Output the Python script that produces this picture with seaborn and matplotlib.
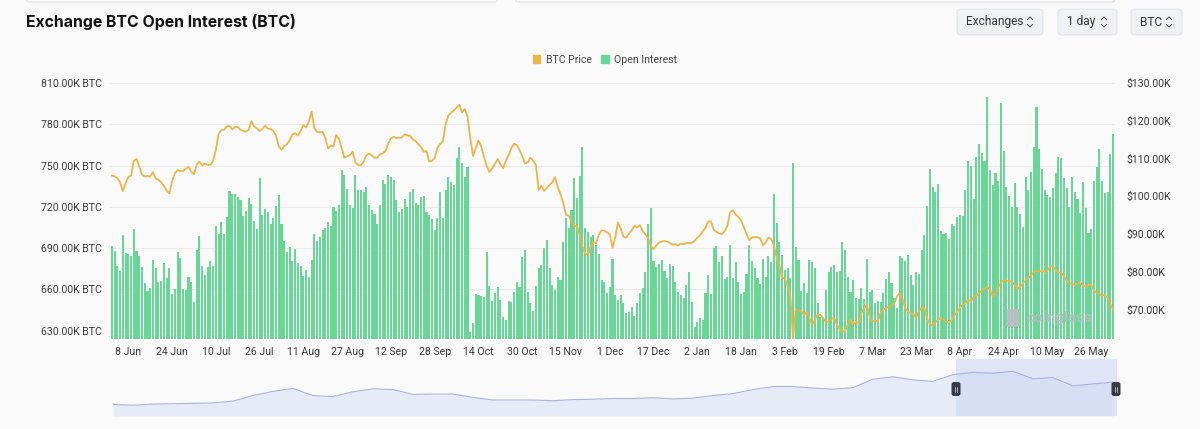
import numpy as np
import pandas as pd
import matplotlib
matplotlib.use("Agg")
import matplotlib.pyplot as plt
from matplotlib.patches import Patch, FancyBboxPatch
import seaborn as sns

# ---------------- data ----------------
start_date = "2025-06-02"

open_interest_k = [
    691.6, 688.2, 677.1, 673.7, 699.6, 686.8, 685.6, 684.6, 704.0, 688.0,
    684.1, 676.1, 665.0, 658.7, 661.4, 681.4, 675.9, 665.7, 666.2, 679.5,
    668.6, 675.4, 656.5, 660.1, 687.0, 682.7, 660.1, 659.4, 669.3, 665.7,
    650.7, 688.7, 698.9, 677.1, 670.5, 676.6, 680.7, 677.3, 706.4, 700.3,
    708.8, 700.3, 712.4, 731.6, 729.6, 729.2, 727.2, 725.0, 713.6, 716.8,
    726.2, 722.1, 709.8, 704.0, 741.2, 714.1, 718.5, 716.5, 707.4, 712.2,
    720.9, 728.7, 707.6, 695.5, 687.5, 691.1, 680.9, 689.4, 679.0, 677.3,
    669.8, 674.2, 669.3, 681.4, 700.1, 695.5, 697.9, 703.2, 704.9, 709.3,
    706.1, 719.7, 717.0, 721.4, 746.8, 743.2, 732.8, 721.4, 719.0, 743.2,
    732.3,
    732.3, 731.1, 734.7, 721.4, 717.7, 714.6, 707.4, 721.4, 739.5,
    736.4, 743.2, 742.0, 739.5, 725.0, 716.5, 718.5, 725.7, 720.2, 731.1,
    733.0, 722.6, 721.4, 727.4, 727.9, 716.5, 714.1, 711.2, 703.2, 711.7,
    731.1, 711.7, 732.3, 742.0, 737.9, 735.9, 755.3, 763.3, 751.6, 742.0,
    749.2, 629.4, 635.4, 656.5, 656.0, 655.5, 654.3, 687.5, 662.8, 651.7,
    657.7, 661.6, 652.4, 640.3, 637.9, 651.7, 650.7, 658.4, 665.2, 662.1,
    683.4, 688.7, 658.4, 650.0, 644.4, 662.8, 675.4, 677.8, 690.4, 695.7,
    675.4, 663.3, 659.6, 669.3, 666.9, 694.3, 711.7, 704.4, 717.7, 741.2,
    726.2, 742.7, 763.3, 704.4, 701.5, 698.4, 699.6, 692.3, 685.6, 666.9,
    665.7, 657.5, 662.0,
    681.9, 656.0, 652.4, 656.0, 650.0, 642.7, 643.4,
    647.1, 641.0, 650.0, 657.2, 660.9, 672.5, 707.4, 719.0, 681.0, 676.6,
    678.3, 681.4, 673.5, 668.1, 678.3, 677.3, 665.7, 658.4, 656.0, 653.6,
    663.3, 673.0, 651.2, 633.0, 636.6, 639.5, 637.9, 657.2, 670.6, 656.5,
    689.9, 691.9, 680.2, 684.6, 667.6, 669.3, 692.3, 668.6, 680.2, 665.7,
    656.5, 658.4, 671.0, 692.3, 681.0, 675.4, 668.6, 663.8, 682.2, 669.3,
    684.1, 680.2, 729.1, 708.6, 694.8, 685.1, 674.2, 675.9, 668.1, 752.1,
    691.1, 681.4, 658.9, 664.5, 657.2, 681.4, 680.2, 675.9, 650.0, 640.3,
    639.1, 659.6, 673.0, 676.6, 677.8, 673.0, 673.5, 694.8, 688.7, 669.3,
    658.4, 666.9, 653.6, 653.1,
    660.9, 652.9, 681.9, 658.4, 659.6, 650.5,
    651.9, 651.0, 657.2, 667.4, 673.0, 665.0, 653.6, 646.3, 684.4, 682.7,
    681.0, 685.1, 670.5, 663.3, 672.7, 671.3, 688.7, 699.6, 720.7, 747.8,
    734.7, 730.6, 736.4, 702.8, 700.1, 701.3, 696.5, 707.3, 706.1, 712.4,
    714.1, 713.6, 732.3, 753.6, 749.7, 725.5, 756.5, 765.5, 758.9, 753.3,
    799.6, 746.8, 735.9, 744.4, 739.1, 795.7, 760.6, 734.7, 727.9, 720.2,
    737.6, 719.7, 714.9, 705.7, 742.0, 732.3, 745.6, 763.3, 792.3, 761.8,
    747.3, 732.3, 728.7, 727.5, 733.5, 744.4, 756.0, 755.3, 740.8, 733.5,
    720.2, 741.5, 731.1, 725.5, 715.3, 738.3, 719.0, 700.8, 703.7, 738.6,
    749.2, 761.8, 739.1, 730.3, 731.1, 758.2, 772.7,
]

btc_price_k = [
    105.5, 105.3, 104.8, 103.7, 101.4, 103.4, 105.1, 105.5, 109.4, 109.9,
    107.9, 105.7, 105.3, 105.4, 105.2, 106.4, 104.7, 104.4, 103.7, 102.8,
    101.5, 100.8, 103.9, 106.1, 106.9, 106.7, 106.7, 107.3, 107.8, 106.5,
    105.8, 108.5, 109.2, 108.2, 108.7, 108.3, 108.3, 109.4, 112.3, 116.5,
    117.6, 117.6, 118.5, 118.6, 117.7, 118.4, 118.3, 117.6, 117.3, 117.1,
    117.6, 119.8, 118.5, 118.0, 117.3, 117.8, 118.7, 117.9, 117.9, 117.3,
    116.1, 113.2, 112.3, 113.3, 113.8, 114.9, 116.4, 116.7, 116.1, 117.3,
    118.9, 118.2, 119.8, 122.4, 118.0, 117.1, 116.9, 117.1, 115.4, 112.7,
    113.4, 113.2, 116.2, 115.2, 112.7, 110.2, 110.6, 110.9, 111.8, 109.0,
    108.3,
    108.2, 109.1, 110.9, 111.3, 110.8, 110.2, 110.2, 111.1, 111.4,
    112.0, 114.0, 115.4, 115.7, 115.4, 115.5, 115.6, 116.4, 116.1, 116.0,
    115.1, 114.6, 113.8, 113.0, 111.8, 112.0, 109.2, 109.4, 110.1, 112.9,
    113.9, 114.5, 119.1, 121.4, 122.1, 122.7, 123.5, 124.2, 122.2, 123.1,
    121.1, 115.4, 110.7, 112.7, 114.8, 113.2, 110.5, 108.1, 106.4, 107.4,
    108.5, 109.9, 108.5, 107.4, 109.4, 110.9, 112.7, 113.9, 113.6, 112.3,
    110.7, 108.7, 109.0, 110.2, 109.5, 108.3, 101.7, 102.8, 101.4, 102.3,
    103.0, 103.7, 105.1, 102.4, 100.6, 98.2, 95.1, 94.9, 93.3, 92.2,
    92.2, 89.8, 86.7, 84.8, 84.5, 86.7, 88.0, 87.6, 89.8, 91.0,
    90.9, 90.5, 89.9,
    86.4, 89.1, 93.1, 91.5, 89.3, 89.1, 90.1,
    91.0, 92.2, 91.8, 92.4, 90.8, 90.0, 88.9, 87.0, 86.0, 87.0,
    87.8, 88.0, 88.2, 88.0, 87.7, 87.2, 87.3, 87.0, 87.5, 87.3,
    87.7, 87.6, 87.7, 88.2, 89.0, 89.7, 90.7, 91.7, 93.4, 93.3,
    91.2, 90.6, 90.2, 90.0, 90.8, 92.2, 95.8, 96.3, 95.2, 94.6,
    93.6, 91.9, 90.0, 88.4, 89.1, 89.2, 89.2, 88.9, 87.0, 87.8,
    89.1, 88.7, 87.1, 83.8, 81.8, 78.3, 78.3, 76.2, 73.9, 62.4,
    70.2, 69.7, 69.7, 68.6, 69.4, 67.7, 66.0, 67.4, 68.8, 68.6,
    67.8, 66.8, 66.9, 67.6, 67.8, 66.1, 64.9, 64.1, 64.4, 66.1,
    67.5, 66.1, 66.8, 66.5,
    69.2, 70.4, 71.3, 68.2, 66.9, 67.1,
    66.9, 69.2, 70.0, 70.5, 70.7, 71.1, 71.6, 73.6, 74.4, 73.0,
    70.4, 69.5, 69.2, 68.8, 67.9, 69.6, 70.5, 70.6, 67.6, 66.2,
    65.8, 66.6, 67.4, 67.8, 67.5, 66.8, 66.7, 67.3, 68.5, 69.4,
    70.6, 71.3, 71.7, 72.7, 72.2, 73.3, 73.7, 74.4, 75.1, 75.6,
    76.0, 75.3, 73.5, 74.4, 75.8, 77.3, 77.8, 77.7, 77.6, 77.4,
    76.6, 75.6, 76.0, 77.0, 77.7, 78.4, 79.0, 80.0, 80.3, 80.1,
    80.3, 79.9, 80.4, 81.5, 81.4, 80.5, 79.9, 79.9, 78.9, 77.7,
    77.1, 76.8, 76.6, 76.9, 77.4, 76.3, 76.1, 76.6, 76.6, 75.2,
    74.4, 74.2, 73.7, 73.9, 73.2, 71.5, 69.9,
]

tick_labels = ["8 Jun", "24 Jun", "10 Jul", "26 Jul", "11 Aug", "27 Aug", "12 Sep",
               "28 Sep", "14 Oct", "30 Oct", "15 Nov", "1 Dec", "17 Dec", "2 Jan",
               "18 Jan", "3 Feb", "19 Feb", "7 Mar", "23 Mar", "8 Apr", "24 Apr",
               "10 May", "26 May"]
oi_ticks = [630, 660, 690, 720, 750, 780, 810]
price_ticks = [70, 80, 90, 100, 110, 120, 130]

# navigator overview series (relative level)
navigator_level = [31, 29, 32, 33, 34, 35, 40, 55, 66, 74, 55, 52, 65, 73, 71, 58, 59,
                   59, 50, 43, 43, 43, 41, 44, 45, 47, 47, 49, 46, 48, 55, 60, 71, 79,
                   79, 75, 72, 76, 99, 105, 97, 93, 111, 117, 115, 120, 100, 103, 81,
                   86, 91]

series_names = ["BTC Price", "Open Interest"]

# ---------------- style ----------------
GREEN = "#69d597"
GOLD = "#e9b64c"
BG = "#fafafa"
TXT = "#3a3a3a"
FONT = ["Roboto", "DejaVu Sans"]

sns.set_theme(style="white")
plt.rcParams["font.family"] = FONT
plt.rcParams["axes.facecolor"] = BG
plt.rcParams["figure.facecolor"] = BG
plt.rcParams["patch.force_edgecolor"] = False

W, H = 1200, 429
fig = plt.figure(figsize=(W / 100, H / 100), dpi=100)

dates = pd.date_range(start_date, periods=len(open_interest_k), freq="D")
df = pd.DataFrame({"day": np.arange(len(dates)), "oi": open_interest_k,
                   "price": btc_price_k})

def fx(px):
    return px / W

def fy(py):
    return 1 - py / H

ax_l, ax_r, ax_t, ax_b = 110, 1115, 75, 339
ax = fig.add_axes([fx(ax_l), fy(ax_b), fx(ax_r - ax_l), (ax_b - ax_t) / H])
sns.barplot(data=df, x="day", y="oi", color=GREEN, saturation=1, width=0.76,
            errorbar=None, ax=ax, zorder=2, linewidth=0, edgecolor="none")
ax.set_xlim(-0.7, len(dates) - 0.3)
ax.set_ylim(624.0, 815.8)
ax.set_yticks(oi_ticks)
ax.set_yticklabels([f"{v:.2f}K BTC" for v in oi_ticks])
fmt = dates.strftime("%d %b").str.lstrip("0")
pos = [int(np.where(fmt == lab)[0][0]) for lab in tick_labels]
ax.set_xticks(pos)
ax.set_xticklabels(tick_labels)
ax.set_xlabel("")
ax.set_ylabel("")
ax.yaxis.grid(True, color="#ebebeb", lw=0.8)
ax.set_axisbelow(True)
for s in ax.spines.values():
    s.set_visible(False)
ax.tick_params(axis="both", length=0, labelsize=7.6, colors=TXT)
ax.tick_params(axis="y", pad=6)
ax.tick_params(axis="x", pad=6)

ax2 = ax.twinx()
sns.lineplot(data=df, x="day", y="price", color=GOLD, lw=1.3, ax=ax2)
ax2.set_ylim(62.26, 132.1)
ax2.set_yticks(price_ticks)
ax2.set_yticklabels([f"${v:.2f}K" for v in price_ticks])
ax2.set_ylabel("")
ax2.set_xlim(ax.get_xlim())
ax2.patch.set_visible(False)
for s in ax2.spines.values():
    s.set_visible(False)
ax2.tick_params(axis="y", length=0, labelsize=7.6, colors=TXT, pad=8)
ax2.grid(False)

# watermark
ax2.text(0.945, 0.08, "coinglass", transform=ax2.transAxes, fontsize=11,
         color="#b9bec3", alpha=0.9, ha="center", va="center", fontweight="bold",
         zorder=5)
ax2.add_patch(FancyBboxPatch((0.905 - 0.013, 0.045), 0.013, 0.07,
                             boxstyle="round,pad=0,rounding_size=0.004",
                             transform=ax2.transAxes, fc="#b9bec3", ec="none",
                             alpha=0.9, zorder=5))

# legend
handles = [Patch(color=GOLD), Patch(color=GREEN)]
fig.legend(handles, series_names, loc="center", bbox_to_anchor=(fx(605), fy(60)),
           ncol=2, frameon=False, fontsize=7.6, handlelength=0.75, handleheight=0.75,
           handletextpad=0.5, columnspacing=0.9, labelcolor="#444444")

# title
fig.text(fx(26), fy(22), "Exchange BTC Open Interest (BTC)", fontsize=11.4,
         fontweight="bold", color="#111111", va="center", ha="left",
         family=["Inter", "Roboto", "DejaVu Sans"])

# navigator
nav_l, nav_r, nav_t, nav_b = 113, 1117, 359, 416
axn = fig.add_axes([fx(nav_l), fy(nav_b), fx(nav_r - nav_l), (nav_b - nav_t) / H])
nx = np.arange(len(navigator_level))
axn.fill_between(nx, navigator_level, color="#e7ebf8", lw=0)
sns.lineplot(x=nx, y=navigator_level, color="#a9b3dc", lw=0.8, ax=axn)
axn.set_xlim(0, len(navigator_level) - 0.8)
axn.set_ylim(0, 153)
sel0 = (956 - nav_l) / (nav_r - nav_l)
axn.axvspan(sel0 * (len(navigator_level) - 0.8), len(navigator_level) - 0.8,
            color="#cdd7f4", alpha=0.6, lw=0)
axn.axis("off")

# overlay for UI furniture (pixel coordinates)
ov = fig.add_axes([0, 0, 1, 1], zorder=20)
ov.set_xlim(0, W)
ov.set_ylim(H, 0)
ov.axis("off")
ov.patch.set_visible(False)

for hx in (956, 1116):
    ov.add_patch(FancyBboxPatch((hx - 4.5, 382), 9, 14,
                                boxstyle="round,pad=0,rounding_size=2.5",
                                fc="#383b47", ec="none"))
    ov.plot([hx - 1.2, hx - 1.2], [386.5, 391.5], color="#bfc3cc", lw=0.6)
    ov.plot([hx + 1.2, hx + 1.2], [386.5, 391.5], color="#bfc3cc", lw=0.6)

# top remnant input boxes
ov.add_patch(FancyBboxPatch((26, -20), 472, 22, boxstyle="round,pad=0,rounding_size=4",
                            fc="#ffffff", ec="#e2e2e2", lw=0.8))
ov.add_patch(FancyBboxPatch((515, -20), 600, 22, boxstyle="round,pad=0,rounding_size=4",
                            fc="#ffffff", ec="#e2e2e2", lw=0.8))

controls = [("Exchanges", 957, 1043), ("1 day", 1058, 1117), ("BTC", 1131, 1182)]
for label, x0, x1 in controls:
    ov.add_patch(FancyBboxPatch((x0, 9), x1 - x0, 26,
                                boxstyle="round,pad=0,rounding_size=4",
                                fc="#f0f1f4", ec="#e4e5e9", lw=0.8))
    ov.text(x0 + 9, 22, label, fontsize=8.6, color="#333333", va="center", ha="left")
    cx = x1 - 13
    ov.plot([cx - 2.5, cx, cx + 2.5], [19.5, 17, 19.5], color="#555555", lw=0.8)
    ov.plot([cx - 2.5, cx, cx + 2.5], [24.5, 27, 24.5], color="#555555", lw=0.8)

fig.savefig("out.png", dpi=100, facecolor=BG)
